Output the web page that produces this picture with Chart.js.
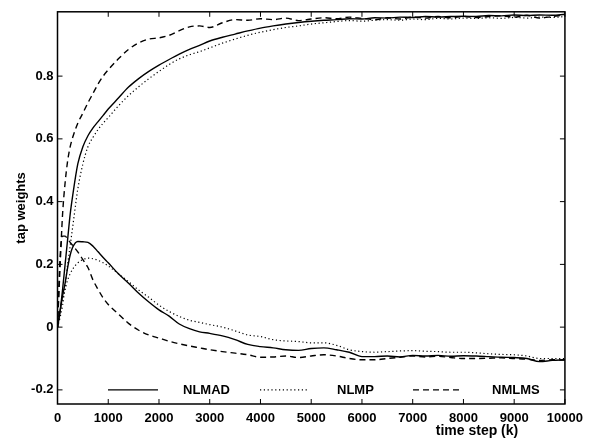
<!DOCTYPE html>
<html>
<head>
<meta charset="utf-8">
<script src="https://cdn.jsdelivr.net/npm/chart.js@4.4.0/dist/chart.umd.min.js"></script>
<style>
  html, body { margin: 0; padding: 0; background: #fff; }
</style>
</head>
<body>
<canvas id="chart" width="590" height="438"></canvas>
<script>
const steps = [0, 50, 100, 150, 200, 250, 300, 400, 500, 600, 700, 800, 900, 1000,
  1200, 1400, 1600, 1800, 2000, 2200, 2400, 2600, 2800, 3000,
  3250, 3500, 3750, 4000, 4250, 4500, 4750, 5000, 5250, 5500, 5750, 6000, 6250, 6500,
  6750, 7000, 7250, 7500, 7750, 8000, 8250, 8500, 8750, 9000, 9250, 9500, 9750, 10000];

// first tap weight (goes to ~1)
const nlmadW1 = [0, .05, .12, .2, .28, .36, .42, .52, .575, .61, .635, .655, .675, .695,
  .73, .765, .792, .815, .835, .853, .87, .885, .898, .912,
  .924, .934, .944, .953, .96, .966, .971, .975, .978, .98, .983, .982, .986, .985,
  .988, .987, .99, .988, .99, .991, .99, .993, .992, .995, .993, .995, .994, .997];
const nlmpW1 = [0, .03, .07, .13, .2, .26, .32, .44, .52, .575, .605, .63, .65, .668,
  .705, .738, .766, .792, .815, .837, .855, .868, .878, .89,
  .905, .918, .93, .94, .948, .955, .96, .966, .97, .974, .977, .975, .978, .98,
  .978, .982, .98, .984, .982, .985, .984, .986, .984, .987, .985, .988, .987, .99];
const nmlmsW1 = [0, .19, .36, .46, .53, .575, .605, .65, .682, .715, .745, .775, .8, .82,
  .855, .885, .906, .918, .922, .93, .945, .957, .96, .955,
  .97, .98, .978, .983, .98, .985, .977, .982, .986, .983, .988, .984, .98, .986,
  .982, .988, .985, .99, .986, .99, .987, .99, .992, .988, .994, .985, .99, .995];

// second tap weight (goes to ~-0.1)
const nlmadW2 = [0, .05, .1, .14, .19, .23, .255, .273, .272, .27, .258, .24, .222, .205,
  .17, .14, .108, .08, .055, .035, .01, -.005, -.015, -.02,
  -.028, -.04, -.055, -.062, -.066, -.072, -.074, -.068, -.066, -.072, -.08, -.094, -.094, -.092,
  -.095, -.09, -.092, -.09, -.093, -.091, -.092, -.094, -.096, -.097, -.1, -.11, -.106, -.104];
const nlmpW2 = [0, .05, .09, .12, .15, .17, .185, .205, .215, .22, .218, .213, .205, .195,
  .17, .145, .118, .095, .07, .05, .034, .022, .015, .008,
  0, -.012, -.025, -.03, -.04, -.044, -.046, -.05, -.05, -.058, -.072, -.078, -.08, -.078,
  -.076, -.075, -.077, -.078, -.08, -.08, -.082, -.085, -.087, -.088, -.092, -.1, -.1, -.1];
const nmlmsW2 = [0, .22, .29, .29, .28, .27, .26, .24, .215, .19, .15, .12, .093, .072,
  .042, .012, -.01, -.025, -.035, -.045, -.053, -.06, -.066, -.072,
  -.078, -.083, -.088, -.096, -.095, -.092, -.097, -.092, -.088, -.092, -.1, -.104, -.104, -.1,
  -.096, -.092, -.095, -.093, -.097, -.1, -.1, -.099, -.098, -.1, -.102, -.106, -.104, -.105];

const xTicks = [0, 1000, 2000, 3000, 4000, 5000, 6000, 7000, 8000, 9000, 10000];
const yTicks = [-0.2, 0, 0.2, 0.4, 0.6, 0.8];
const names = ['NLMAD', 'NLMP', 'NMLMS'];

const FAMILY = '"Liberation Sans", Arial, Helvetica, sans-serif';
const tickFont = { family: FAMILY, size: 13, weight: 'bold' };

const lineStyles = [
  { borderDash: [], borderWidth: 1.4 },
  { borderDash: [1.2, 2.6], borderWidth: 1.2 },
  { borderDash: [6, 4], borderWidth: 1.4 }
];

function pts(vals) { return steps.map((k, i) => ({ x: k, y: vals[i] })); }

function ds(label, vals, s) {
  return {
    label, data: pts(vals),
    borderColor: '#000', backgroundColor: '#000',
    borderWidth: lineStyles[s].borderWidth, borderDash: lineStyles[s].borderDash,
    pointRadius: 0, cubicInterpolationMode: 'monotone', fill: false
  };
}

// box, inward ticks, legend inside plot, x label
const framePlugin = {
  id: 'frame',
  afterDatasetsDraw(chart) {
    const { ctx, chartArea: a, scales: { x, y } } = chart;
    ctx.save();
    ctx.strokeStyle = '#000';
    ctx.lineWidth = 1.5;
    ctx.setLineDash([]);
    ctx.strokeRect(a.left, a.top, a.right - a.left, a.bottom - a.top);

    ctx.lineWidth = 1;
    ctx.beginPath();
    const t = 5;
    x.ticks.forEach(tk => {
      const px = x.getPixelForValue(tk.value);
      ctx.moveTo(px, a.bottom); ctx.lineTo(px, a.bottom - t);
      ctx.moveTo(px, a.top); ctx.lineTo(px, a.top + t);
    });
    y.ticks.forEach(tk => {
      const py = y.getPixelForValue(tk.value);
      ctx.moveTo(a.left, py); ctx.lineTo(a.left + t, py);
      ctx.moveTo(a.right, py); ctx.lineTo(a.right - t, py);
    });
    ctx.stroke();

    // legend row at y = -0.2
    const ly = y.getPixelForValue(-0.2);
    const segs = [[108, 158, 183], [260, 308, 337], [413, 463, 492]];
    ctx.font = 'bold 13px ' + FAMILY;
    ctx.fillStyle = '#000';
    ctx.textBaseline = 'middle';
    ctx.textAlign = 'left';
    segs.forEach((s, i) => {
      const d = chart.data.datasets[i];
      ctx.lineWidth = d.borderWidth;
      ctx.setLineDash(d.borderDash);
      ctx.beginPath();
      ctx.moveTo(s[0], ly); ctx.lineTo(s[1], ly);
      ctx.stroke();
      ctx.fillText(names[i], s[2], ly + 1);
    });

    ctx.setLineDash([]);
    ctx.font = 'bold 14px ' + FAMILY;
    ctx.textAlign = 'center';
    ctx.fillText('time step (k)', 477, 431);
    ctx.restore();
  }
};

new Chart(document.getElementById('chart'), {
  type: 'line',
  data: {
    datasets: [
      ds(names[0], nlmadW1, 0),
      ds(names[1], nlmpW1, 1),
      ds(names[2], nmlmsW1, 2),
      ds(names[0], nlmadW2, 0),
      ds(names[1], nlmpW2, 1),
      ds(names[2], nmlmsW2, 2)
    ]
  },
  options: {
    responsive: false,
    animation: false,
    devicePixelRatio: 1,
    layout: { padding: { top: 7, right: 22, left: 0, bottom: 0 } },
    plugins: { legend: { display: false }, tooltip: { enabled: false } },
    scales: {
      x: {
        type: 'linear', min: 0, max: 10000,
        grid: { display: false, drawTicks: false },
        border: { display: false },
        afterBuildTicks: s => { s.ticks = xTicks.map(v => ({ value: v })); },
        afterFit: s => { s.height = 34; },
        ticks: { color: '#000', font: tickFont, padding: 7, autoSkip: false, maxRotation: 0,
          callback: v => String(v) }
      },
      y: {
        min: -0.245, max: 1.005,
        grid: { display: false, drawTicks: false },
        border: { display: false },
        afterBuildTicks: s => { s.ticks = yTicks.map(v => ({ value: v })); },
        afterFit: s => { s.width = 57.5; },
        ticks: { color: '#000', font: tickFont, padding: 4, callback: v => String(v) },
        title: { display: true, text: 'tap weights', color: '#000', font: tickFont,
          padding: { top: 14, bottom: 0 } }
      }
    }
  },
  plugins: [framePlugin]
});
</script>
</body>
</html>
